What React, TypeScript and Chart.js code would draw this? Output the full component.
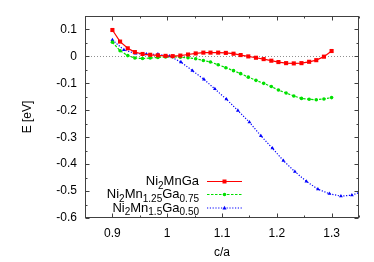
import React, { useEffect, useRef } from "react";
import { Chart, registerables } from "chart.js";

Chart.register(...registerables);

// c/a values of the Ni2MnGa and Ni2Mn1.25Ga0.75 curves
const caFine = [
  0.9, 0.914, 0.928, 0.941, 0.955, 0.969, 0.983, 0.997, 1.01, 1.024,
  1.038, 1.052, 1.066, 1.079, 1.093, 1.107, 1.121, 1.134, 1.148, 1.162,
  1.176, 1.19, 1.203, 1.217, 1.231, 1.245, 1.259, 1.272, 1.286, 1.3,
];
const eNi2MnGa = [
  0.098, 0.055, 0.03, 0.016, 0.009, 0.006, 0.004, 0.002, 0.001, 0.003,
  0.007, 0.011, 0.014, 0.014, 0.014, 0.013, 0.01, 0.005, 0.0, -0.005,
  -0.01, -0.016, -0.021, -0.025, -0.026, -0.025, -0.02, -0.014, -0.001, 0.02,
];
const eMn125 = [
  0.053, 0.021, 0.003, -0.006, -0.008, -0.006, -0.004, -0.002, -0.001, -0.003,
  -0.005, -0.009, -0.015, -0.021, -0.031, -0.042, -0.053, -0.064, -0.077, -0.089,
  -0.1, -0.112, -0.125, -0.136, -0.147, -0.156, -0.159, -0.161, -0.158, -0.153,
];
// c/a values of the Ni2Mn1.5Ga0.50 curve
const caCoarse = [
  0.9, 0.921, 0.942, 0.962, 0.983, 1.004, 1.025, 1.046, 1.067, 1.087,
  1.108, 1.129, 1.15, 1.171, 1.192, 1.212, 1.233, 1.254, 1.275, 1.296,
  1.317, 1.337, 1.358,
];
const eMn150 = [
  0.061, 0.024, 0.011, 0.008, 0.008, 0.001, -0.021, -0.053, -0.085, -0.121,
  -0.159, -0.201, -0.244, -0.295, -0.341, -0.387, -0.428, -0.464, -0.493, -0.51,
  -0.519, -0.515, -0.5,
];

const xTickValues = [0.9, 1.0, 1.1, 1.2, 1.3];
const xTickLabels = ["0.9", "1", "1.1", "1.2", "1.3"];
const xMinorValues = [0.85, 0.95, 1.05, 1.15, 1.25, 1.35];
const yTickValues = [0.1, 0, -0.1, -0.2, -0.3, -0.4, -0.5, -0.6];
const yTickLabels = ["0.1", "0", "-0.1", "-0.2", "-0.3", "-0.4", "-0.5", "-0.6"];
const yMinorValues = [0.15, 0.05, -0.05, -0.15, -0.25, -0.35, -0.45, -0.55];

const xTitle = "c/a";
const yTitle = "E [eV]";

type Seg = { t: string; sub: boolean };
const legendRed: Seg[] = [
  { t: "Ni", sub: false }, { t: "2", sub: true }, { t: "MnGa", sub: false },
];
const legendGreen: Seg[] = [
  { t: "Ni", sub: false }, { t: "2", sub: true }, { t: "Mn", sub: false },
  { t: "1.25", sub: true }, { t: "Ga", sub: false }, { t: "0.75", sub: true },
];
const legendBlue: Seg[] = [
  { t: "Ni", sub: false }, { t: "2", sub: true }, { t: "Mn", sub: false },
  { t: "1.5", sub: true }, { t: "Ga", sub: false }, { t: "0.50", sub: true },
];

const FONT = "'Liberation Sans', Arial, Helvetica, sans-serif";
const RED = "#ff0000";
const GREEN = "#00e000";
const BLUE = "#0000ff";
const FRAME = "#404040";

function drawMarker(ctx: CanvasRenderingContext2D, style: string, x: number, y: number, color: string) {
  ctx.save();
  ctx.fillStyle = color;
  ctx.beginPath();
  if (style === "rect") {
    ctx.rect(x - 2, y - 2, 4, 4);
  } else if (style === "circle") {
    ctx.arc(x, y, 1.8, 0, Math.PI * 2);
  } else {
    ctx.moveTo(x, y - 2.2);
    ctx.lineTo(x + 2, y + 1.4);
    ctx.lineTo(x - 2, y + 1.4);
    ctx.closePath();
  }
  ctx.fill();
  ctx.restore();
}

function drawRich(ctx: CanvasRenderingContext2D, segs: Seg[], rightX: number, baseY: number) {
  const mainFont = `13px ${FONT}`;
  const subFont = `10px ${FONT}`;
  let w = 0;
  for (const s of segs) {
    ctx.font = s.sub ? subFont : mainFont;
    w += ctx.measureText(s.t).width;
  }
  let x = rightX - w;
  ctx.textAlign = "left";
  ctx.textBaseline = "alphabetic";
  for (const s of segs) {
    ctx.font = s.sub ? subFont : mainFont;
    ctx.fillText(s.t, x, s.sub ? baseY + 3.5 : baseY);
    x += ctx.measureText(s.t).width;
  }
}

const framePlugin = {
  id: "gnuFrame",
  beforeDatasetsDraw(chart: any) {
    const { ctx, chartArea: a, scales } = chart;
    const y0 = Math.round(scales.y.getPixelForValue(0)) + 0.5;
    ctx.save();
    ctx.strokeStyle = "#909090";
    ctx.lineWidth = 1;
    ctx.setLineDash([1, 2]);
    ctx.beginPath();
    ctx.moveTo(a.left, y0);
    ctx.lineTo(a.right, y0);
    ctx.stroke();
    ctx.restore();
  },
  afterDraw(chart: any) {
    const { ctx, chartArea: a, scales } = chart;
    const L = Math.round(a.left) + 0.5;
    const R = Math.round(a.right) - 0.5;
    const T = Math.round(a.top) + 0.5;
    const B = Math.round(a.bottom) - 0.5;
    ctx.save();
    ctx.strokeStyle = FRAME;
    ctx.lineWidth = 1;
    ctx.setLineDash([]);
    ctx.strokeRect(L, T, R - L, B - T);
    ctx.beginPath();
    const major = 4;
    const minor = 2;
    xTickValues.forEach((v) => {
      const px = Math.round(scales.x.getPixelForValue(v)) + 0.5;
      ctx.moveTo(px, B); ctx.lineTo(px, B - major);
      ctx.moveTo(px, T); ctx.lineTo(px, T + major);
    });
    xMinorValues.forEach((v) => {
      const px = Math.round(scales.x.getPixelForValue(v)) + 0.5;
      ctx.moveTo(px, B); ctx.lineTo(px, B - minor);
      ctx.moveTo(px, T); ctx.lineTo(px, T + minor);
    });
    yTickValues.forEach((v) => {
      const py = Math.round(scales.y.getPixelForValue(v)) + 0.5;
      ctx.moveTo(L, py); ctx.lineTo(L + major, py);
      ctx.moveTo(R, py); ctx.lineTo(R - major, py);
    });
    yMinorValues.forEach((v) => {
      const py = Math.round(scales.y.getPixelForValue(v)) + 0.5;
      ctx.moveTo(L, py); ctx.lineTo(L + minor, py);
      ctx.moveTo(R, py); ctx.lineTo(R - minor, py);
    });
    ctx.stroke();

    // axis titles
    ctx.fillStyle = "#000";
    ctx.font = `12px ${FONT}`;
    ctx.textAlign = "center";
    ctx.textBaseline = "middle";
    ctx.fillText(xTitle, (a.left + a.right) / 2, a.bottom + 35);
    ctx.save();
    ctx.translate(28, (a.top + a.bottom) / 2);
    ctx.rotate(-Math.PI / 2);
    ctx.fillText(yTitle, 0, 0);
    ctx.restore();

    // legend
    const textRight = a.left + 114;
    const lx0 = a.left + 122;
    const lx1 = a.left + 157;
    const rows = [
      { segs: legendRed, color: RED, dash: [] as number[], style: "rect", y: a.top + 165.5 },
      { segs: legendGreen, color: GREEN, dash: [2.5, 1.5], style: "circle", y: a.top + 178.5 },
      { segs: legendBlue, color: BLUE, dash: [1.2, 1.6], style: "triangle", y: a.top + 192 },
    ];
    rows.forEach((r) => {
      ctx.fillStyle = "#000";
      drawRich(ctx, r.segs, textRight, r.y + 3.5);
      ctx.save();
      ctx.strokeStyle = r.color;
      ctx.lineWidth = 1.2;
      ctx.setLineDash(r.dash);
      ctx.beginPath();
      ctx.moveTo(lx0, r.y);
      ctx.lineTo(lx1, r.y);
      ctx.stroke();
      ctx.restore();
      drawMarker(ctx, r.style, (lx0 + lx1) / 2, r.y, r.color);
    });
    ctx.restore();
  },
};

export default function App() {
  const ref = useRef<HTMLCanvasElement | null>(null);
  useEffect(() => {
    if (!ref.current) return;
    const chart = new Chart(ref.current, {
      type: "line",
      data: {
        datasets: [
          {
            label: "Ni2MnGa",
            data: caFine.map((x, i) => ({ x, y: eNi2MnGa[i] })),
            borderColor: RED,
            backgroundColor: RED,
            borderWidth: 1.2,
            pointStyle: "rect",
            pointRadius: 2.9,
            pointBorderWidth: 0,
            tension: 0,
          },
          {
            label: "Ni2Mn1.25Ga0.75",
            data: caFine.map((x, i) => ({ x, y: eMn125[i] })),
            borderColor: GREEN,
            backgroundColor: GREEN,
            borderWidth: 1.2,
            borderDash: [2.5, 1.5],
            pointStyle: "circle",
            pointRadius: 1.8,
            pointBorderWidth: 0,
            tension: 0,
          },
          {
            label: "Ni2Mn1.5Ga0.50",
            data: caCoarse.map((x, i) => ({ x, y: eMn150[i] })),
            borderColor: BLUE,
            backgroundColor: BLUE,
            borderWidth: 1.2,
            borderDash: [1.2, 1.6],
            pointStyle: "triangle",
            pointRadius: 2.2,
            pointBorderWidth: 0,
            tension: 0,
          },
        ],
      },
      options: {
        animation: false,
        responsive: false,
        layout: { padding: { left: 0, right: 15, top: 16, bottom: 0 } },
        plugins: { legend: { display: false }, tooltip: { enabled: false } },
        scales: {
          x: {
            type: "linear",
            min: 0.85,
            max: 1.35,
            afterBuildTicks: (s: any) => {
              s.ticks = xTickValues.map((v) => ({ value: v }));
            },
            afterFit: (s: any) => {
              s.height = 44;
            },
            ticks: {
              autoSkip: false,
              maxRotation: 0,
              padding: 8,
              color: "#000",
              font: { family: FONT, size: 12 },
              callback: (_v: any, i: number) => xTickLabels[i],
            },
            grid: { display: false, drawTicks: false },
            border: { display: false },
          },
          y: {
            type: "linear",
            min: -0.6,
            max: 0.15,
            afterBuildTicks: (s: any) => {
              s.ticks = yTickValues.map((v) => ({ value: v }));
            },
            afterFit: (s: any) => {
              s.width = 85;
            },
            ticks: {
              autoSkip: false,
              padding: 8,
              color: "#000",
              font: { family: FONT, size: 12 },
              callback: (_v: any, i: number) => yTickLabels[i],
            },
            grid: { display: false, drawTicks: false },
            border: { display: false },
          },
        },
      },
      plugins: [framePlugin],
    } as any);
    return () => chart.destroy();
  }, []);
  return (
    <div style={{ position: "fixed", left: 0, top: 0, width: 374, height: 262, background: "#fff" }}>
      <canvas ref={ref} width={374} height={262} style={{ display: "block" }} />
    </div>
  );
}
